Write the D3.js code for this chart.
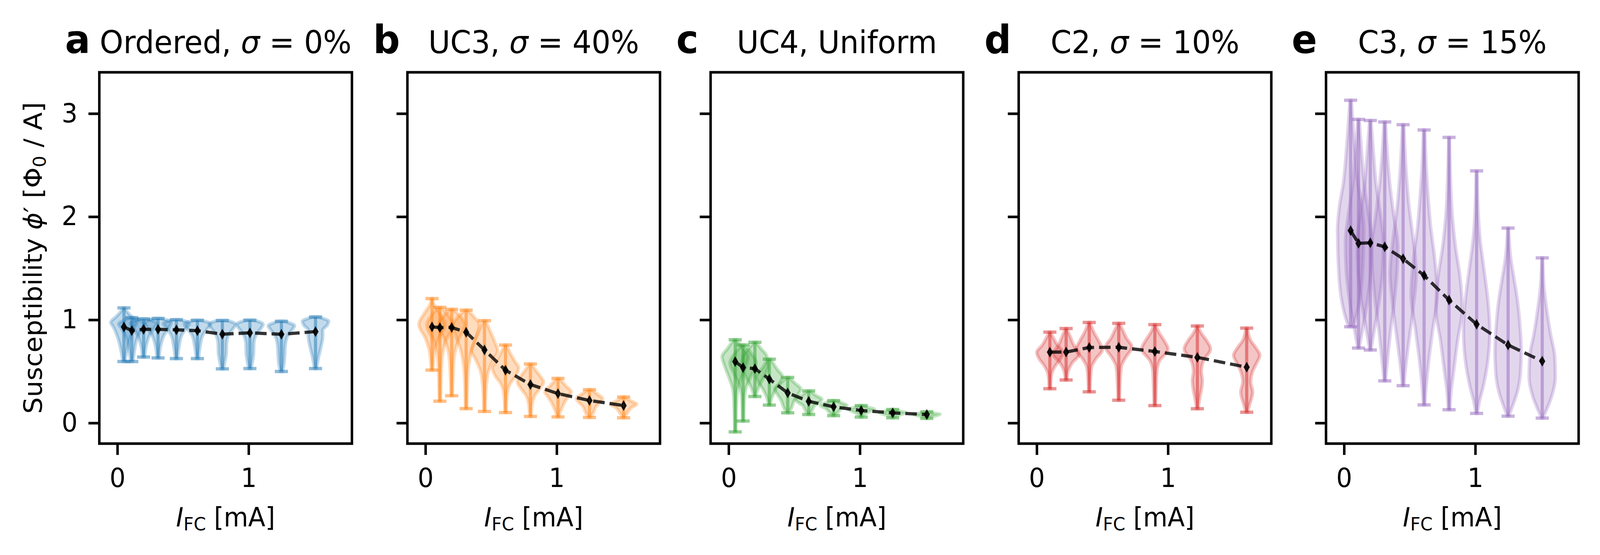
<!DOCTYPE html>
<html>
<head>
<meta charset="utf-8">
<script src="https://cdn.jsdelivr.net/npm/d3@7"></script>
<style>
  html, body { margin: 0; padding: 0; overflow: hidden; background: #fff; }
  svg { display: block; width: 100vw; height: 100vh; }
  text { font-family: "DejaVu Sans", sans-serif; fill: #000; }
</style>
</head>
<body>
<svg id="fig"></svg>
<script>
// field-cooling currents [mA] of each violin
var currents = [0.05, 0.11, 0.2, 0.31, 0.45, 0.61, 0.8, 1.01, 1.25, 1.51]
var currentsD = [0.1, 0.224, 0.4, 0.625, 0.9, 1.224, 1.6]

var panelLetters = ['a', 'b', 'c', 'd', 'e']
var panelTitles = ['Ordered, σ = 0%', 'UC3, σ = 40%', 'UC4, Uniform', 'C2, σ = 10%', 'C3, σ = 15%']
var panelColors = ['#1f77b4', '#ff7f0e', '#2ca02c', '#d62728', '#9467bd']
var xTicks = [0, 1]
var yTicks = [0, 1, 2, 3]

// mean, min and max of the susceptibility [Phi0 / A]
var meanA = [0.931, 0.896, 0.908, 0.908, 0.903, 0.895, 0.861, 0.874, 0.860, 0.886]
var minA = [0.596, 0.596, 0.639, 0.631, 0.624, 0.624, 0.525, 0.528, 0.499, 0.528]
var maxA = [1.116, 1.021, 1.009, 1.014, 1.001, 0.996, 0.994, 0.997, 0.986, 1.028]

var meanB = [0.932, 0.925, 0.926, 0.880, 0.708, 0.512, 0.373, 0.285, 0.218, 0.169]
var minB = [0.512, 0.211, 0.264, 0.139, 0.112, 0.101, 0.063, 0.059, 0.054, 0.050]
var maxB = [1.206, 1.121, 1.102, 1.094, 0.992, 0.756, 0.572, 0.432, 0.323, 0.252]

var meanC = [0.595, 0.537, 0.527, 0.425, 0.292, 0.210, 0.157, 0.121, 0.098, 0.082]
var minC = [-0.086, 0.019, 0.257, 0.173, 0.098, 0.082, 0.071, 0.057, 0.050, 0.044]
var maxC = [0.807, 0.756, 0.782, 0.619, 0.441, 0.311, 0.217, 0.169, 0.131, 0.108]

var meanD = [0.687, 0.688, 0.732, 0.734, 0.693, 0.636, 0.541]
var minD = [0.332, 0.417, 0.302, 0.221, 0.169, 0.138, 0.104]
var maxD = [0.881, 0.916, 0.975, 0.966, 0.954, 0.941, 0.920]

var meanE = [1.865, 1.742, 1.747, 1.708, 1.592, 1.430, 1.192, 0.957, 0.756, 0.599]
var minE = [0.933, 0.727, 0.708, 0.408, 0.362, 0.175, 0.129, 0.093, 0.066, 0.047]
var maxE = [3.129, 2.943, 2.933, 2.919, 2.892, 2.841, 2.769, 2.444, 1.890, 1.601]

// violin outlines: [value, relative half width]
var shapeA = [
  [[0.596, 0.08], [0.69, 0.2], [0.82, 0.45], [0.93, 0.8], [0.975, 1], [1.03, 0.6], [1.07, 0.3], [1.116, 0.06]],
  [[0.596, 0.08], [0.70, 0.2], [0.82, 0.4], [0.92, 0.8], [0.96, 1], [0.995, 0.6], [1.021, 0.15]],
  [[0.639, 0.08], [0.75, 0.2], [0.85, 0.45], [0.93, 0.85], [0.965, 1], [0.995, 0.6], [1.009, 0.2]],
  [[0.631, 0.08], [0.75, 0.2], [0.85, 0.45], [0.93, 0.85], [0.975, 1], [1.0, 0.6], [1.014, 0.2]],
  [[0.624, 0.08], [0.74, 0.2], [0.85, 0.4], [0.93, 0.8], [0.962, 1], [0.99, 0.6], [1.001, 0.2]],
  [[0.624, 0.08], [0.74, 0.2], [0.85, 0.4], [0.92, 0.8], [0.96, 1], [0.985, 0.6], [0.996, 0.2]],
  [[0.525, 0.08], [0.6, 0.2], [0.68, 0.3], [0.77, 0.32], [0.86, 0.5], [0.92, 0.85], [0.956, 1], [0.985, 0.6], [0.994, 0.2]],
  [[0.528, 0.08], [0.6, 0.2], [0.68, 0.28], [0.77, 0.3], [0.86, 0.5], [0.92, 0.85], [0.956, 1], [0.985, 0.6], [0.997, 0.2]],
  [[0.499, 0.08], [0.58, 0.2], [0.66, 0.25], [0.76, 0.3], [0.85, 0.5], [0.91, 0.85], [0.943, 1], [0.97, 0.6], [0.986, 0.2]],
  [[0.528, 0.08], [0.62, 0.2], [0.73, 0.4], [0.84, 0.55], [0.9, 0.55], [0.95, 0.9], [0.987, 1], [1.012, 0.6], [1.028, 0.2]]
]
var shapeB = [
  [[0.512, 0.06], [0.62, 0.12], [0.70, 0.2], [0.82, 0.5], [0.956, 1], [1.08, 0.5], [1.15, 0.15], [1.206, 0.05]],
  [[0.211, 0.05], [0.4, 0.08], [0.6, 0.15], [0.78, 0.4], [0.95, 1], [1.05, 0.6], [1.121, 0.1]],
  [[0.264, 0.05], [0.45, 0.1], [0.65, 0.2], [0.8, 0.5], [0.95, 1], [1.04, 0.6], [1.102, 0.1]],
  [[0.139, 0.05], [0.3, 0.08], [0.5, 0.15], [0.7, 0.4], [0.85, 0.8], [0.95, 1], [1.03, 0.6], [1.094, 0.1]],
  [[0.112, 0.05], [0.3, 0.1], [0.5, 0.3], [0.62, 0.7], [0.70, 1], [0.78, 0.8], [0.9, 0.4], [0.992, 0.1]],
  [[0.101, 0.05], [0.25, 0.1], [0.38, 0.35], [0.46, 0.8], [0.534, 1], [0.6, 0.7], [0.68, 0.35], [0.756, 0.08]],
  [[0.063, 0.05], [0.17, 0.12], [0.27, 0.35], [0.33, 0.7], [0.40, 1], [0.46, 0.7], [0.52, 0.35], [0.572, 0.08]],
  [[0.059, 0.05], [0.13, 0.25], [0.2, 0.5], [0.26, 0.8], [0.30, 1], [0.36, 0.6], [0.432, 0.1]],
  [[0.054, 0.05], [0.1, 0.3], [0.16, 0.5], [0.2, 0.8], [0.234, 1], [0.28, 0.6], [0.323, 0.1]],
  [[0.05, 0.05], [0.1, 0.3], [0.15, 0.6], [0.183, 1], [0.21, 0.6], [0.252, 0.1]]
]
var shapeC = [
  [[-0.086, 0.05], [0.1, 0.07], [0.3, 0.15], [0.45, 0.5], [0.55, 0.8], [0.643, 1], [0.72, 0.6], [0.807, 0.1]],
  [[0.019, 0.05], [0.2, 0.08], [0.35, 0.25], [0.48, 0.7], [0.58, 1], [0.68, 0.6], [0.756, 0.1]],
  [[0.257, 0.05], [0.35, 0.3], [0.45, 0.7], [0.55, 1], [0.65, 0.9], [0.73, 0.4], [0.782, 0.1]],
  [[0.173, 0.05], [0.25, 0.2], [0.33, 0.5], [0.40, 0.85], [0.45, 1], [0.52, 0.6], [0.619, 0.1]],
  [[0.098, 0.05], [0.15, 0.3], [0.22, 0.5], [0.28, 0.8], [0.33, 1], [0.38, 0.6], [0.441, 0.1]],
  [[0.082, 0.05], [0.12, 0.25], [0.17, 0.45], [0.21, 0.9], [0.23, 1], [0.27, 0.5], [0.311, 0.1]],
  [[0.071, 0.05], [0.1, 0.3], [0.14, 0.6], [0.17, 1], [0.19, 0.7], [0.217, 0.1]],
  [[0.057, 0.05], [0.09, 0.3], [0.12, 0.8], [0.135, 1], [0.15, 0.5], [0.169, 0.1]],
  [[0.05, 0.05], [0.07, 0.3], [0.09, 0.8], [0.1, 1], [0.115, 0.5], [0.131, 0.1]],
  [[0.044, 0.05], [0.06, 0.3], [0.075, 0.8], [0.085, 1], [0.095, 0.5], [0.108, 0.1]]
]
var shapeD = [
  [[0.332, 0.05], [0.42, 0.08], [0.5, 0.2], [0.56, 0.45], [0.62, 0.8], [0.684, 1], [0.76, 0.55], [0.83, 0.25], [0.881, 0.05]],
  [[0.417, 0.05], [0.5, 0.15], [0.58, 0.45], [0.67, 1], [0.75, 0.6], [0.84, 0.3], [0.916, 0.05]],
  [[0.302, 0.05], [0.45, 0.1], [0.55, 0.2], [0.62, 0.5], [0.711, 1], [0.8, 0.7], [0.88, 0.35], [0.975, 0.05]],
  [[0.221, 0.05], [0.4, 0.1], [0.55, 0.2], [0.63, 0.5], [0.738, 1], [0.82, 0.6], [0.9, 0.3], [0.966, 0.05]],
  [[0.169, 0.05], [0.35, 0.1], [0.5, 0.15], [0.6, 0.35], [0.718, 1], [0.8, 0.7], [0.88, 0.3], [0.954, 0.05]],
  [[0.138, 0.05], [0.22, 0.15], [0.32, 0.3], [0.41, 0.38], [0.5, 0.3], [0.6, 0.45], [0.718, 1], [0.8, 0.7], [0.87, 0.3], [0.941, 0.05]],
  [[0.104, 0.05], [0.17, 0.2], [0.3, 0.45], [0.4, 0.3], [0.5, 0.45], [0.58, 0.75], [0.657, 1], [0.72, 0.75], [0.8, 0.3], [0.920, 0.05]]
]
var shapeE = [
  [[0.933, 0.15], [1.05, 0.45], [1.2, 0.7], [1.45, 0.9], [1.865, 1], [2.1, 0.85], [2.33, 0.55], [2.6, 0.35], [2.85, 0.2], [3.129, 0.05]],
  [[0.727, 0.05], [0.9, 0.3], [1.2, 0.7], [1.5, 0.95], [1.75, 1], [2.0, 0.8], [2.3, 0.45], [2.6, 0.25], [2.943, 0.05]],
  [[0.708, 0.05], [0.9, 0.3], [1.2, 0.7], [1.5, 0.95], [1.75, 1], [2.0, 0.8], [2.3, 0.45], [2.6, 0.25], [2.933, 0.05]],
  [[0.408, 0.05], [0.6, 0.2], [0.9, 0.45], [1.2, 0.75], [1.5, 0.95], [1.7, 1], [2.0, 0.7], [2.3, 0.4], [2.6, 0.2], [2.919, 0.05]],
  [[0.362, 0.05], [0.55, 0.2], [0.8, 0.45], [1.1, 0.75], [1.45, 1], [1.8, 0.75], [2.1, 0.45], [2.4, 0.25], [2.892, 0.05]],
  [[0.175, 0.05], [0.35, 0.15], [0.6, 0.35], [0.9, 0.65], [1.25, 1], [1.6, 0.8], [1.9, 0.5], [2.2, 0.3], [2.5, 0.15], [2.841, 0.05]],
  [[0.129, 0.05], [0.3, 0.15], [0.5, 0.35], [0.8, 0.65], [1.1, 1], [1.4, 0.85], [1.7, 0.5], [2.0, 0.25], [2.4, 0.1], [2.769, 0.03]],
  [[0.093, 0.05], [0.2, 0.2], [0.35, 0.5], [0.6, 0.85], [0.9, 1], [1.2, 0.85], [1.5, 0.55], [1.8, 0.25], [2.1, 0.1], [2.444, 0.03]],
  [[0.066, 0.05], [0.15, 0.3], [0.3, 0.7], [0.5, 0.95], [0.7, 1], [0.95, 0.9], [1.2, 0.7], [1.4, 0.45], [1.6, 0.2], [1.89, 0.03]],
  [[0.047, 0.05], [0.12, 0.3], [0.25, 0.7], [0.45, 1], [0.65, 0.95], [0.85, 0.65], [1.05, 0.4], [1.3, 0.15], [1.601, 0.03]]
]

var panelData = [
  { pos: currents, mean: meanA, min: minA, max: maxA, shape: shapeA },
  { pos: currents, mean: meanB, min: minB, max: maxB, shape: shapeB },
  { pos: currents, mean: meanC, min: minC, max: maxC, shape: shapeC },
  { pos: currentsD, mean: meanD, min: minD, max: maxD, shape: shapeD },
  { pos: currents, mean: meanE, min: minE, max: maxE, shape: shapeE }
]

// layout (pixels of the 4269 x 1420 figure)
var W = 4269, H = 1420
var frameLeft = [265, 1087, 1896, 2718, 3538]
var frameW = 674, frameTop = 185, frameBottom = 1135
var lw = 6.67          // 0.8 pt at 600 dpi
var tickLen = 29
var halfWidth = 0.1    // violin half width [mA]
var capHalf = 0.05

// stretch the figure over the whole window
var svg = d3.select('#fig')
  .attr('viewBox', '0 0 ' + W + ' ' + H)
  .attr('preserveAspectRatio', 'none')

svg.append('rect').attr('width', W).attr('height', H).attr('fill', '#fff')

var thinDiamond = {
  draw: function (ctx, size) {
    var h = Math.sqrt(size)
    ctx.moveTo(0, -h / 2)
    ctx.lineTo(0.3 * h, 0)
    ctx.lineTo(0, h / 2)
    ctx.lineTo(-0.3 * h, 0)
    ctx.closePath()
  }
}

panelData.forEach(function (p, k) {
  var left = frameLeft[k]
  var color = panelColors[k]
  var x = d3.scaleLinear().domain([-0.1375, 1.7875]).range([left, left + frameW])
  var y = d3.scaleLinear().domain([-0.2, 3.4]).range([frameBottom, frameTop])
  var g = svg.append('g').attr('class', 'panel panel-' + panelLetters[k])

  // violin bodies
  var bodies = g.append('g').attr('class', 'bodies')
  p.pos.forEach(function (c, i) {
    var area = d3.area()
      .y(function (d) { return y(d[0]) })
      .x0(function (d) { return x(c - halfWidth * d[1]) })
      .x1(function (d) { return x(c + halfWidth * d[1]) })
      .curve(d3.curveMonotoneY)
    bodies.append('path')
      .attr('d', area(p.shape[i]))
      .attr('fill', color)
      .attr('fill-opacity', 0.27)
      .attr('stroke', color)
      .attr('stroke-opacity', 0.27)
      .attr('stroke-width', 9)
      .attr('stroke-linejoin', 'round')
  })

  // min / max bars
  var bars = g.append('g').attr('class', 'bars')
    .attr('stroke', color)
    .attr('stroke-width', 8.5)
  p.pos.forEach(function (c, i) {
    bars.append('line')
      .attr('x1', x(c)).attr('x2', x(c))
      .attr('y1', y(p.min[i])).attr('y2', y(p.max[i]))
      .attr('stroke-opacity', 0.5)
    ;[p.min[i], p.max[i]].forEach(function (v) {
      bars.append('line')
        .attr('x1', x(c - capHalf)).attr('x2', x(c + capHalf))
        .attr('y1', y(v)).attr('y2', y(v))
        .attr('stroke-opacity', 0.5)
    })
  })

  // mean line with markers
  var pts = p.pos.map(function (c, i) { return [c, p.mean[i]] })
  var line = d3.line()
    .x(function (d) { return x(d[0]) })
    .y(function (d) { return y(d[1]) })
  g.append('path')
    .attr('d', line(pts))
    .attr('fill', 'none')
    .attr('stroke', '#000')
    .attr('stroke-opacity', 0.8)
    .attr('stroke-width', 8.33)
    .attr('stroke-dasharray', '30.8,13.3')
  g.append('g').attr('class', 'means')
    .selectAll('path')
    .data(pts)
    .enter().append('path')
    .attr('d', d3.symbol(thinDiamond, 400))
    .attr('transform', function (d) { return 'translate(' + x(d[0]) + ',' + y(d[1]) + ')' })
    .attr('fill', '#000')
    .attr('fill-opacity', 0.85)
    .attr('stroke', '#000')
    .attr('stroke-opacity', 0.85)
    .attr('stroke-width', 4)

  // axes
  var xAxis = d3.axisBottom(x).tickValues(xTicks).tickSize(tickLen).tickPadding(34)
    .tickFormat(d3.format('d'))
  var yAxis = d3.axisLeft(y).tickValues(yTicks).tickSize(tickLen).tickPadding(29)
    .tickFormat(k > 0 ? '' : d3.format('d'))

  var gx = g.append('g')
    .attr('transform', 'translate(0,' + frameBottom + ')')
    .call(xAxis)
  var gy = g.append('g')
    .attr('transform', 'translate(' + left + ',0)')
    .call(yAxis)
  ;[gx, gy].forEach(function (a) {
    a.select('.domain').remove()
    a.selectAll('.tick line').attr('stroke', '#000').attr('stroke-width', lw)
    a.selectAll('.tick text')
      .attr('fill', '#000')
      .style('font-family', '"DejaVu Sans", sans-serif')
      .style('font-size', '67px')
  })

  // frame
  g.append('rect')
    .attr('x', left).attr('y', frameTop)
    .attr('width', frameW).attr('height', frameBottom - frameTop)
    .attr('fill', 'none')
    .attr('stroke', '#000')
    .attr('stroke-width', lw)

  // title with italic sigma
  var title = g.append('text')
    .attr('x', left + frameW / 2)
    .attr('y', 136)
    .attr('text-anchor', 'middle')
    .style('font-size', '80px')
  var parts = panelTitles[k].split('σ')
  parts.forEach(function (s, j) {
    if (j > 0) title.append('tspan').style('font-style', 'italic').text('σ')
    title.append('tspan').text(s)
  })

  g.append('text')
    .attr('x', left - 91.5)
    .attr('y', 136)
    .style('font-size', '100px')
    .style('font-weight', 'bold')
    .text(panelLetters[k])

  // x label
  var xl = g.append('text')
    .attr('x', left + frameW / 2)
    .attr('y', 1347)
    .attr('text-anchor', 'middle')
    .style('font-size', '67px')
  xl.append('tspan').style('font-style', 'italic').text('I')
  xl.append('tspan').attr('dy', 10).style('font-size', '47px').text('FC')
  xl.append('tspan').attr('dy', -10).text(' [mA]')
})

// y label
var yl = svg.append('text')
  .attr('transform', 'translate(112,660) rotate(-90)')
  .attr('text-anchor', 'middle')
  .style('font-size', '67px')
yl.append('tspan').text('Susceptibility ')
yl.append('tspan').style('font-style', 'italic').text('ϕ')
yl.append('tspan').text('′')
yl.append('tspan').text(' [Φ')
yl.append('tspan').attr('dy', 10).style('font-size', '47px').text('0')
yl.append('tspan').attr('dy', -10).text(' / A]')
</script>
</body>
</html>
